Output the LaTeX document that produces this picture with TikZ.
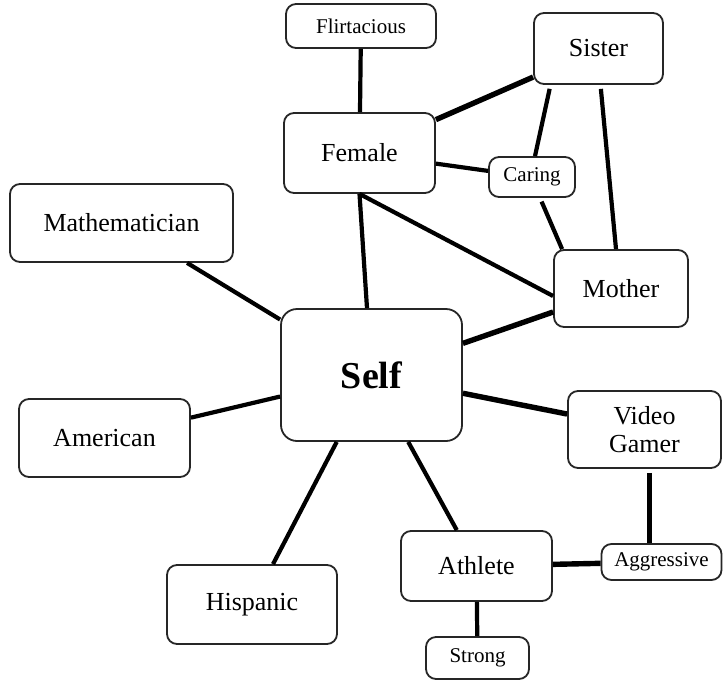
\documentclass[tikz,border=0pt]{standalone}
\usepackage{fontspec}
\setmainfont{Liberation Serif}
\usetikzlibrary{shapes,calc}

\begin{document}
\begin{tikzpicture}[x=1pt,y=-1pt,
    box/.style={draw=black!85,line width=1.8pt,rounded corners=10pt,fill=white,
      inner sep=0pt,align=center,font=\fontsize{26}{28}\selectfont},
    small/.style={box,font=\fontsize{21}{23}\selectfont},
    link/.style={line width=4.2pt},
    thick link/.style={line width=5.4pt}]
  \useasboundingbox (0,0) rectangle (723,681);
  \node[box,minimum width=181pt,minimum height=132pt,rounded corners=16pt,
    font=\fontsize{38}{40}\selectfont\bfseries] (Self) at (371.5,375) {Self};
  %%
  \node[small,minimum width=150pt,minimum height=44pt] (Flirtacious) at (361,26) {Flirtacious};
  \node[box,minimum width=129pt,minimum height=71pt] (Sister) at (598.5,48.5) {Sister};
  \node[box,minimum width=151pt,minimum height=80pt] (Female) at (359.5,153) {Female};
  \node[small,minimum width=86pt,minimum height=40pt] (Caring) at (532,177) {Caring};
  \node[box,minimum width=134pt,minimum height=77pt] (Mother) at (621,288.5) {Mother};
  \node[box,minimum width=223pt,minimum height=78pt] (Mathematician) at (121.5,223) {Mathematician};
  \node[box,minimum width=171pt,minimum height=78pt] (American) at (104.5,438) {American};
  \node[box,minimum width=170pt,minimum height=79pt] (Hispanic) at (252,604.5) {Hispanic};
  \node[box,minimum width=153pt,minimum height=77pt] (Gamer) at (644.5,429.5) {Video\\Gamer};
  \node[box,minimum width=151pt,minimum height=70pt] (Athlete) at (476.5,566) {Athlete};
  \node[small,minimum width=120pt,minimum height=36pt] (Aggressive) at (661.5,562) {Aggressive};
  \node[small,minimum width=103pt,minimum height=42pt] (Strong) at (477.5,658) {Strong};
  %%
  \path[link] (Flirtacious) edge (Female) (Female) edge (Caring);
  \path[link,shorten <=4pt] ([xshift=-48pt]Sister.south) edge ([xshift=3pt]Caring.north)
    ([xshift=2pt]Sister.south) edge ([xshift=-5pt]Mother.north)
    ([xshift=8pt]Caring.south) edge ([xshift=9pt]Mother.north west)
    ([xshift=5pt]Gamer.south) edge ([xshift=-12pt]Aggressive.north);
  \path[link] (Female.south) edge ([yshift=-7.5pt]Mother.west)
    (Female.south) edge ([xshift=-4.5pt]Self.north);
  \path[link] (Self) edge (Mathematician) (Self) edge (American)
    (Self) edge (Hispanic) (Self) edge (Athlete) (Athlete) edge (Strong);
  \path[thick link] (Female) edge (Sister) (Self) edge (Mother)
    (Self) edge (Gamer) (Athlete) edge (Aggressive);
\end{tikzpicture}
\end{document}
